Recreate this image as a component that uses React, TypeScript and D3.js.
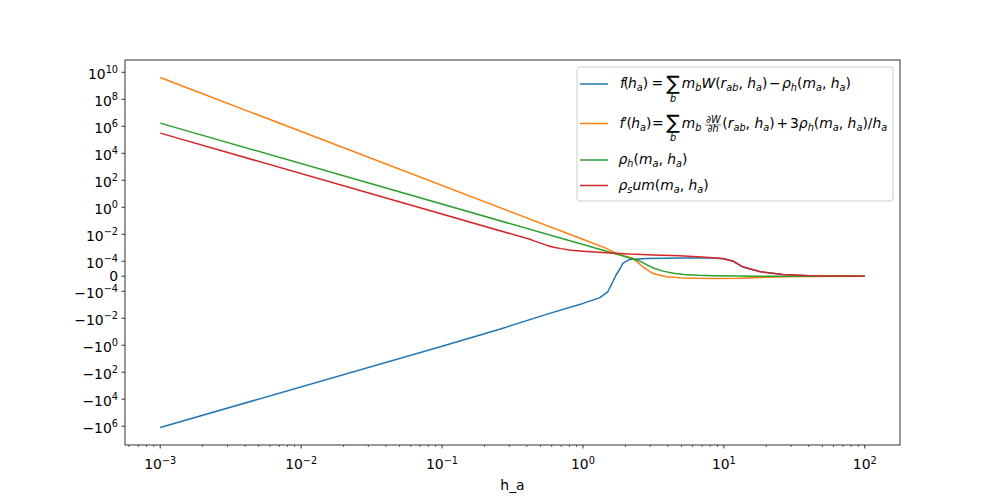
import React from "react";
import * as d3 from "d3";

// ---- data ----
const blueH = [0.001, 0.1, 0.26, 0.58, 1.0, 1.31, 1.5, 1.63, 1.72, 1.82, 1.92, 2.14, 2.82, 5.0, 8.35, 9.84, 11.6, 13.6, 17.9, 26.2, 40.5, 100];
const blueV = [-1.25e6, -1.2, -0.062, -4.4e-3, -8.0e-4, -3.1e-4, -1.1e-4, -3.7e-5, 1.0e-5, 4.5e-5, 8.5e-5, 1.36e-4, 1.6e-4, 1.72e-4, 1.72e-4, 1.5e-4, 1.0e-4, 6.2e-5, 3.1e-5, 1.1e-5, 3e-6, 3e-7];

const orangeH = [0.001, 1.05, 1.45, 1.72, 2.0, 2.26, 2.66, 3.14, 3.9, 5.0, 6.4, 9.0, 13, 18, 26, 40, 100];
const orangeV = [4.1e9, 3.4e-3, 9.3e-4, 4.0e-4, 2.4e-4, 1.64e-4, 6.3e-5, 1.8e-5, -4e-6, -1.1e-5, -1.4e-5, -1.5e-5, -1.4e-5, -9e-6, -4e-6, -1.2e-6, -1e-7];

const greenH = [0.001, 1.6, 2.1, 2.5, 2.8, 3.2, 3.7, 4.4, 5.2, 6.5, 8.5, 12, 18, 30, 100];
const greenV = [1.7e6, 4.2e-4, 1.87e-4, 1.1e-4, 7.9e-5, 5.3e-5, 3.4e-5, 2.0e-5, 1.2e-5, 6.2e-6, 2.8e-6, 1.0e-6, 3.0e-7, 6.4e-8, 1.7e-9];

const redH = [0.001, 0.42, 0.45, 0.5, 0.55, 0.62, 0.7, 0.8, 0.95, 1.12, 1.82, 2.14, 3.2, 4.84, 7.0, 9.84, 11.6, 13.6, 17.9, 26.2, 40.5, 100];
const redV = [3.1e5, 4.2e-3, 3.2e-3, 2.2e-3, 1.55e-3, 1.1e-3, 8.6e-4, 6.8e-4, 5.7e-4, 5.0e-4, 3.8e-4, 3.4e-4, 2.9e-4, 2.5e-4, 2.05e-4, 1.6e-4, 1.05e-4, 6.3e-5, 3.1e-5, 1.1e-5, 3e-6, 3e-7];

const xTickValues = [1e-3, 1e-2, 1e-1, 1, 10, 100];
const xTickExps = ["−3", "−2", "−1", "0", "1", "2"];
const yTickValues = [1e10, 1e8, 1e6, 1e4, 1e2, 1, 1e-2, 1e-4, 0, -1e-4, -1e-2, -1, -1e2, -1e4, -1e6];
const xLabel = "h_a";

const COLORS = ["#1f77b4", "#ff7f0e", "#2ca02c", "#d62728"];
const FONT = "DejaVu Sans";
const FS = 13.9;

const LINTHRESH = 1e-4;
const LINSCALE = 1;
function symlog(v: number): number {
  const adj = LINSCALE / (1 - 1 / 10);
  const a = Math.abs(v);
  if (a <= LINTHRESH) return (v / LINTHRESH) * adj;
  return Math.sign(v) * (adj + Math.log10(a / LINTHRESH));
}

const L = 125, R = 900, T = 60, B = 445;

type Seg = [string, string, number?];
function MathText({ x, y, segs, size = FS, anchor = "start" }: { x: number; y: number; segs: Seg[]; size?: number; anchor?: string }) {
  let cur = 0;
  const out: any[] = [];
  segs.forEach(([t, s, dx], k) => {
    const sub = s.startsWith("s");
    const sup = s.startsWith("p");
    const target = sub ? 3.2 : sup ? -5.5 : 0;
    const dy = target - cur;
    cur = target;
    out.push(
      <tspan key={k} dy={dy} dx={dx || 0} fontStyle={s.endsWith("i") ? "italic" : "normal"} fontSize={sub || sup ? size * 0.7 : size}>
        {t}
      </tspan>
    );
  });
  return (
    <text x={x} y={y} fontFamily={FONT} fontSize={size} textAnchor={anchor as any} style={{ whiteSpace: "pre" }} fill="#000">
      {out}
    </text>
  );
}

function Sum({ cx, yc, by }: { cx: number; yc: number; by: number }) {
  return (
    <g>
      <text x={cx} y={yc} fontSize={20} fontFamily={FONT} textAnchor="middle" dominantBaseline="central">∑</text>
      <text x={cx} y={by} fontSize={FS * 0.7} fontStyle="italic" textAnchor="middle" fontFamily={FONT}>b</text>
    </g>
  );
}

export default function App() {
  const allH = [...blueH, ...orangeH, ...greenH, ...redH];
  const allV = [...blueV, ...orangeV, ...greenV, ...redV].map(symlog);
  const lx0 = Math.log10(d3.min(allH)!), lx1 = Math.log10(d3.max(allH)!);
  const mx = (lx1 - lx0) * 0.05;
  const x = d3.scaleLog().domain([Math.pow(10, lx0 - mx), Math.pow(10, lx1 + mx)]).range([L, R]);
  const ty0 = d3.min(allV)!, ty1 = d3.max(allV)!;
  const my = (ty1 - ty0) * 0.05;
  const yT = d3.scaleLinear().domain([ty0 - my, ty1 + my]).range([B, T]);
  const y = (v: number) => yT(symlog(v));

  const series = [
    { h: blueH, v: blueV },
    { h: orangeH, v: orangeV },
    { h: greenH, v: greenV },
    { h: redH, v: redV },
  ];
  const line = d3.line<[number, number]>().x((d) => x(d[0])).y((d) => y(d[1]));

  const minor: number[] = [];
  for (let e = -4; e <= 2; e++) for (let m = 2; m <= 9; m++) {
    const v = m * Math.pow(10, e);
    if (x(v) >= L && x(v) <= R) minor.push(v);
  }

  const yLabel = (v: number): Seg[] => {
    if (v === 0) return [["0", "r"]];
    const e = Math.round(Math.log10(Math.abs(v)));
    const es = e < 0 ? "−" + Math.abs(e) : String(e);
    return [[(v < 0 ? "−" : "") + "10", "r"], [es, "pr"]];
  };

  const legendRows = [84, 123.5, 160, 185.5];
  const r1 = 88, r2 = 127.5;

  return (
    <svg width={1000} height={500} style={{ position: "absolute", left: 0, top: 0, background: "#fff" }} fontFamily={FONT}>
      <rect x={0} y={0} width={1000} height={500} fill="#fff" />
      {series.map((s, i) => (
        <path key={i} d={line(s.h.map((h, k) => [h, s.v[k]] as [number, number]))!} fill="none" stroke={COLORS[i]} strokeWidth={1.5} strokeLinejoin="round" strokeLinecap="butt" />
      ))}
      {/* spines */}
      <rect x={L} y={T} width={R - L} height={B - T} fill="none" stroke="#000" strokeWidth={0.8} />
      {/* x ticks */}
      {xTickValues.map((v, i) => (
        <g key={"xt" + i}>
          <line x1={x(v)} x2={x(v)} y1={B} y2={B + 3.5} stroke="#000" strokeWidth={0.8} />
          <MathText x={x(v)} y={469} anchor="middle" segs={[["10", "r"], [xTickExps[i], "pr"]]} />
        </g>
      ))}
      {minor.map((v, i) => (
        <line key={"xm" + i} x1={x(v)} x2={x(v)} y1={B} y2={B + 2} stroke="#000" strokeWidth={0.6} />
      ))}
      {/* y ticks */}
      {yTickValues.map((v, i) => (
        <g key={"yt" + i}>
          <line x1={L} x2={L - 3.5} y1={y(v)} y2={y(v)} stroke="#000" strokeWidth={0.8} />
          <MathText x={118} y={y(v) + (v === 0 ? 5 : 6.5)} anchor="end" segs={yLabel(v)} />
        </g>
      ))}
      <text x={(L + R) / 2} y={490} textAnchor="middle" fontSize={FS} fontFamily={FONT}>{xLabel}</text>

      {/* legend */}
      <rect x={577} y={67} width={316} height={134} rx={3} fill="#fff" fillOpacity={0.8} stroke="#cccccc" strokeWidth={1} />
      {legendRows.map((yc, i) => (
        <line key={"lh" + i} x1={580} x2={608} y1={yc} y2={yc} stroke={COLORS[i]} strokeWidth={1.5} />
      ))}
      {/* row 1 */}
      <MathText x={620} y={r1} segs={[["f", "i"], ["(", "r", -1.5], ["h", "i", -0.8], ["a", "si"], [")", "r"]]} />
      <text x={651.5} y={r1} fontSize={FS} fontFamily={FONT}>=</text>
      <Sum cx={673} yc={83} by={102} />
      <MathText x={681.7} y={r1} segs={[["m", "i"], ["b", "si"], ["W", "i"], ["(", "r"], ["r", "i"], ["ab", "si"], [", ", "r"], ["h", "i"], ["a", "si"], [")", "r"]]} />
      <text x={769} y={r1} fontSize={FS} fontFamily={FONT}>−</text>
      <MathText x={782} y={r1} segs={[["ρ", "i"], ["h", "si"], ["(", "r"], ["m", "i"], ["a", "si"], [", ", "r"], ["h", "i"], ["a", "si"], [")", "r"]]} />
      {/* row 2 */}
      <MathText x={619.5} y={r2} segs={[["f", "i"], ["′", "r", -0.5], ["(", "r", -0.5], ["h", "i", -0.8], ["a", "si"], [")", "r"]]} />
      <text x={652} y={r2} fontSize={FS} fontFamily={FONT}>=</text>
      <Sum cx={673} yc={122.3} by={140.5} />
      <MathText x={681.7} y={r2} segs={[["m", "i"], ["b", "si"]]} />
      <text x={713.2} y={123.3} fontSize={FS * 0.7} fontStyle="italic" textAnchor="middle" fontFamily={FONT}>∂W</text>
      <line x1={705} x2={721.5} y1={125} y2={125} stroke="#000" strokeWidth={0.5} />
      <text x={713.2} y={132.2} fontSize={FS * 0.7} fontStyle="italic" textAnchor="middle" fontFamily={FONT}>∂h</text>
      <MathText x={722.3} y={r2} segs={[["(", "r"], ["r", "i"], ["ab", "si"], [", ", "r"], ["h", "i"], ["a", "si"], [")", "r"]]} />
      <text x={776.5} y={r2} fontSize={FS} fontFamily={FONT}>+</text>
      <MathText x={790} y={r2} segs={[["3", "r"], ["ρ", "i"], ["h", "si"], ["(", "r"], ["m", "i"], ["a", "si"], [", ", "r"], ["h", "i"], ["a", "si"], [")/", "r"], ["h", "i"], ["a", "si"]]} />
      {/* row 3 */}
      <MathText x={618.5} y={164} segs={[["ρ", "i"], ["h", "si"], ["(", "r"], ["m", "i"], ["a", "si"], [", ", "r"], ["h", "i"], ["a", "si"], [")", "r"]]} />
      {/* row 4 */}
      <MathText x={618.5} y={189.7} segs={[["ρ", "i"], ["s", "si"], ["um", "i"], ["(", "r"], ["m", "i"], ["a", "si"], [", ", "r"], ["h", "i"], ["a", "si"], [")", "r"]]} />
    </svg>
  );
}
